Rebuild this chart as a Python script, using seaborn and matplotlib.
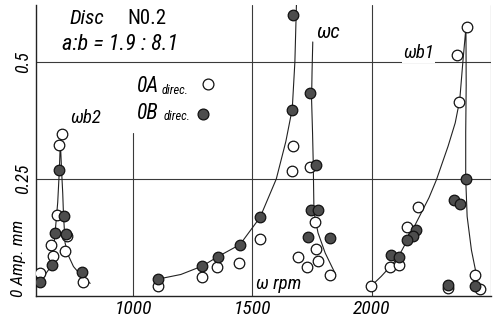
import matplotlib
matplotlib.use("Agg")
import matplotlib.pyplot as plt
import seaborn as sns
import pandas as pd

# Measured amplitudes, direction OA (open circles)
oa_rpm = [701, 690, 680, 722, 657, 664, 715, 610, 788,
          1103, 1290, 1353, 1444, 1532,
          1671, 1667, 1741, 1762, 1765, 1692, 1776, 1730, 1825,
          2398, 2356, 2365, 2194, 2146, 2076, 2114, 1997, 2432, 2453, 2320]
oa_amp = [0.346, 0.323, 0.173, 0.128, 0.109, 0.086, 0.096, 0.049, 0.030,
          0.021, 0.040, 0.061, 0.070, 0.121,
          0.321, 0.268, 0.276, 0.159, 0.100, 0.084, 0.075, 0.063, 0.045,
          0.574, 0.515, 0.415, 0.190, 0.147, 0.062, 0.066, 0.021, 0.044, 0.016, 0.017]

# Measured amplitudes, direction OB (filled circles)
ob_rpm = [690, 712, 673, 660, 610, 785, 719,
          1103, 1290, 1355, 1448, 1532,
          1671, 1741, 1667, 1766, 1745, 1775, 1734, 1825,
          2394, 2345, 2370, 2187, 2174, 2150, 2080, 2114, 2320, 2432]
ob_amp = [0.269, 0.170, 0.135, 0.066, 0.030, 0.052, 0.132,
          0.036, 0.064, 0.084, 0.109, 0.168,
          0.600, 0.433, 0.397, 0.281, 0.184, 0.184, 0.127, 0.125,
          0.251, 0.205, 0.196, 0.142, 0.128, 0.120, 0.088, 0.083, 0.024, 0.021]

# Hand-faired resonance curves
b2_rpm = [603, 630, 660, 673, 684, 691, 695, 701, 705, 708, 715, 730, 750, 785, 820]
b2_amp = [0.028, 0.045, 0.066, 0.135, 0.20, 0.27, 0.33, 0.26, 0.22, 0.177, 0.113, 0.085, 0.063, 0.042, 0.027]

c_left_rpm = [1103, 1200, 1290, 1355, 1448, 1532, 1600, 1640, 1667, 1678, 1685]
c_left_amp = [0.036, 0.046, 0.064, 0.084, 0.110, 0.168, 0.250, 0.330, 0.400, 0.500, 0.632]

c_right_rpm = [1753, 1750, 1748, 1752, 1755, 1758, 1775, 1805, 1846]
c_right_amp = [0.543, 0.480, 0.420, 0.350, 0.284, 0.180, 0.135, 0.092, 0.049]

b1_rpm = [1997, 2040, 2076, 2111, 2150, 2200, 2240, 2271, 2320, 2350, 2369, 2382, 2395,
          2396, 2394, 2394, 2400, 2418, 2439]
b1_amp = [0.021, 0.042, 0.062, 0.083, 0.120, 0.170, 0.210, 0.248, 0.320, 0.370, 0.419, 0.500, 0.574,
          0.450, 0.350, 0.251, 0.170, 0.098, 0.045]

x_ticks = [1000, 1500, 2000]
y_ticks = [0.25, 0.5]

sns.set_theme(style="white")
plt.rcParams["font.family"] = ["Liberation Sans Narrow", "DejaVu Sans Condensed",
                               "Roboto Condensed", "DejaVu Sans"]
plt.rcParams["font.style"] = "italic"
plt.rcParams["text.color"] = "black"
plt.rcParams["xtick.color"] = "black"
plt.rcParams["ytick.color"] = "black"

fig = plt.figure(figsize=(4.96, 3.25), dpi=100)
ax = fig.add_axes([36 / 496, 1 - 296 / 325, (491 - 36) / 496, (296 - 5) / 325])
ax.set_xlim(593, 2500)
ax.set_ylim(0, 0.622)

grid_kw = dict(color="#3a3a3a", lw=0.8, zorder=1)
for y in y_ticks:
    ax.axhline(y, **grid_kw)
for x in [1500, 2000, 2500]:
    ax.axvline(x, **grid_kw)
ax.axvline(1000, ymin=0, ymax=0.348 / 0.622, **grid_kw)

curves = [(b2_rpm, b2_amp), (c_left_rpm, c_left_amp), (c_right_rpm, c_right_amp), (b1_rpm, b1_amp)]
for xs, ys in curves:
    df = pd.DataFrame({"rpm": xs, "amp": ys})
    sns.lineplot(data=df, x="rpm", y="amp", sort=False, estimator=None,
                 color="#222222", lw=0.8, ax=ax, zorder=2)

oa = pd.DataFrame({"rpm": oa_rpm, "amp": oa_amp})
ob = pd.DataFrame({"rpm": ob_rpm, "amp": ob_amp})
sns.scatterplot(data=oa, x="rpm", y="amp", s=58, facecolor="white", edgecolor="#111111",
                linewidth=0.9, ax=ax, zorder=3)
sns.scatterplot(data=ob, x="rpm", y="amp", s=58, color="#4d4d4d", edgecolor="#111111",
                linewidth=0.9, ax=ax, zorder=4)

for side in ["top", "right"]:
    ax.spines[side].set_visible(False)
for side in ["left", "bottom"]:
    ax.spines[side].set_color("#222222")
    ax.spines[side].set_linewidth(1.0)

ax.set_xticks(x_ticks)
ax.set_xticklabels([str(v) for v in x_ticks], fontsize=14)
ax.set_yticks(y_ticks)
ax.set_yticklabels([str(v) for v in y_ticks], fontsize=13, rotation=90, va="center")
ax.tick_params(length=0, pad=3)
ax.set_xlabel("")
ax.set_ylabel("")

def ftext(px, py, s, **kw):
    fig.text(px / 496, 1 - py / 325, s, **kw)

ftext(19, 258, "0 Amp. mm", fontsize=12.5, rotation=90, ha="center", va="center")
ftext(70, 18, "Disc", fontsize=15, ha="left", va="center", style="italic")
ftext(127, 18, "N0.2", fontsize=15, ha="left", va="center", style="normal")
ftext(62, 44, "a:b = 1.9 : 8.1", fontsize=16, ha="left", va="center")
ftext(70, 118, "ωb2", fontsize=13.5, ha="left", va="center")
ftext(316, 32, "ωc", fontsize=15, ha="left", va="center")
ftext(403, 53, "ωb1", fontsize=13.5, ha="left", va="center",
      bbox=dict(facecolor="white", edgecolor="none", pad=1))
ftext(256, 284, "ω rpm", fontsize=13.5, ha="left", va="center")

# key for the two measuring directions
ftext(137, 86, "0A", fontsize=15.5, ha="left", va="center")
ftext(162, 90, "direc.", fontsize=9, ha="left", va="center")
ftext(137, 114, "0B", fontsize=15.5, ha="left", va="center")
ftext(164, 117, "direc.", fontsize=9, ha="left", va="center")
fig.add_artist(plt.Line2D([208 / 496], [1 - 84 / 325], marker="o", ms=7.8, mfc="white",
                          mec="#111111", mew=0.9, ls="none", transform=fig.transFigure))
fig.add_artist(plt.Line2D([203 / 496], [1 - 114 / 325], marker="o", ms=7.8, mfc="#4d4d4d",
                          mec="#111111", mew=0.9, ls="none", transform=fig.transFigure))

fig.savefig("out.png", dpi=100)
